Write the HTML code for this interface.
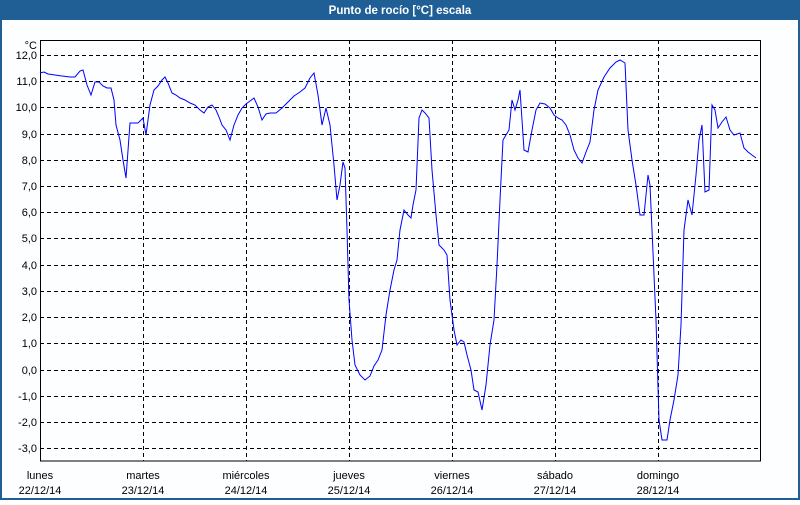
<!DOCTYPE html>
<html><head><meta charset="utf-8"><style>
body{margin:0;width:800px;height:500px;overflow:hidden;background:#fff;font-family:"Liberation Sans","DejaVu Sans",sans-serif}
</style></head><body>
<svg width="800" height="500" xmlns="http://www.w3.org/2000/svg" font-family="Liberation Sans, DejaVu Sans, sans-serif">
<rect x="0" y="0" width="800" height="500" fill="#1f5f96"/>
<rect x="2" y="20" width="796" height="478" fill="#fcfeff"/>
<text x="400" y="14" fill="#fff" font-size="11.5" font-weight="bold" text-anchor="middle">Punto de rocío [°C] escala</text>
<g stroke="#000" stroke-dasharray="4,3" stroke-width="1">
<line x1="40" x2="760" y1="55.5" y2="55.5"/><line x1="40" x2="760" y1="81.5" y2="81.5"/><line x1="40" x2="760" y1="107.5" y2="107.5"/><line x1="40" x2="760" y1="134.5" y2="134.5"/><line x1="40" x2="760" y1="160.5" y2="160.5"/><line x1="40" x2="760" y1="186.5" y2="186.5"/><line x1="40" x2="760" y1="212.5" y2="212.5"/><line x1="40" x2="760" y1="238.5" y2="238.5"/><line x1="40" x2="760" y1="265.5" y2="265.5"/><line x1="40" x2="760" y1="291.5" y2="291.5"/><line x1="40" x2="760" y1="317.5" y2="317.5"/><line x1="40" x2="760" y1="343.5" y2="343.5"/><line x1="40" x2="760" y1="370.5" y2="370.5"/><line x1="40" x2="760" y1="396.5" y2="396.5"/><line x1="40" x2="760" y1="422.5" y2="422.5"/><line x1="40" x2="760" y1="448.5" y2="448.5"/>
<line x1="143.5" x2="143.5" y1="40" y2="461"/><line x1="246.5" x2="246.5" y1="40" y2="461"/><line x1="349.5" x2="349.5" y1="40" y2="461"/><line x1="452.5" x2="452.5" y1="40" y2="461"/><line x1="555.5" x2="555.5" y1="40" y2="461"/><line x1="658.5" x2="658.5" y1="40" y2="461"/>
</g>
<rect x="40.5" y="40.5" width="720" height="420.5" fill="none" stroke="#000" stroke-width="1"/>
<g font-size="11" fill="#000" text-anchor="end">
<text x="37" y="49">°C</text>
<text x="37" y="59">12,0</text><text x="37" y="85">11,0</text><text x="37" y="111">10,0</text><text x="37" y="138">9,0</text><text x="37" y="164">8,0</text><text x="37" y="190">7,0</text><text x="37" y="216">6,0</text><text x="37" y="242">5,0</text><text x="37" y="269">4,0</text><text x="37" y="295">3,0</text><text x="37" y="321">2,0</text><text x="37" y="347">1,0</text><text x="37" y="374">0,0</text><text x="37" y="400">-1,0</text><text x="37" y="426">-2,0</text><text x="37" y="452">-3,0</text>
</g>
<g font-size="11" fill="#000" text-anchor="middle">
<text x="40" y="479">lunes</text><text x="40" y="494">22/12/14</text>
<text x="143" y="479">martes</text><text x="143" y="494">23/12/14</text>
<text x="246" y="479">miércoles</text><text x="246" y="494">24/12/14</text>
<text x="349" y="479">jueves</text><text x="349" y="494">25/12/14</text>
<text x="452" y="479">viernes</text><text x="452" y="494">26/12/14</text>
<text x="555" y="479">sábado</text><text x="555" y="494">27/12/14</text>
<text x="658" y="479">domingo</text><text x="658" y="494">28/12/14</text>
</g>
<polyline fill="none" stroke="#0000ff" stroke-width="1" points="40,73 44,72 48,74 55,75 62,76 70,77 75,77 80,71 83,70 87,85 91,95 95,82 99,82 103,86 107,88 111,88 114,100 116,125 120,140 123,160 126,178 130,123 134,123 138,123 143,118 146,135 150,105 154,90 158,86 162,80 165,77 168,83 172,93 176,95 180,98 185,100 190,103 195,105 200,110 204,113 208,107 212,105 216,110 219,117 222,125 226,130 230,140 234,125 238,115 242,108 246,104 250,101 254,98 258,107 262,120 266,114 270,113 276,113 282,108 288,102 294,96 300,92 305,88 310,78 314,73 318,95 322,125 326,108 330,125 334,165 337,200 340,185 343,162 345,168 347,230 349,300 352,340 355,365 360,375 365,380 370,376 374,366 378,360 382,350 386,315 390,290 394,270 397,260 400,230 404,210 408,215 411,218 413,205 416,190 419,118 422,110 425,113 429,118 432,170 436,215 439,245 444,250 447,255 450,300 454,330 457,345 461,340 464,342 467,355 471,370 474,390 478,392 482,410 486,385 490,345 494,320 497,265 500,200 503,140 506,135 509,130 512,100 515,110 518,100 520,90 522,120 524,150 528,152 532,130 536,110 540,103 545,104 550,108 554,115 558,118 562,120 566,125 570,135 574,150 578,158 582,163 586,152 590,142 594,110 598,90 604,77 610,68 616,62 620,60 625,63 628,130 632,160 636,185 640,215 644,215 648,175 650,185 652,230 656,320 659,420 662,440 667,440 670,420 674,400 678,375 681,325 684,230 688,200 692,215 696,175 699,140 702,125 705,192 709,190 712,105 715,110 718,128 722,122 726,117 730,130 734,135 740,133 744,148 748,152 752,155 756,158"/>
</svg>
</body></html>
